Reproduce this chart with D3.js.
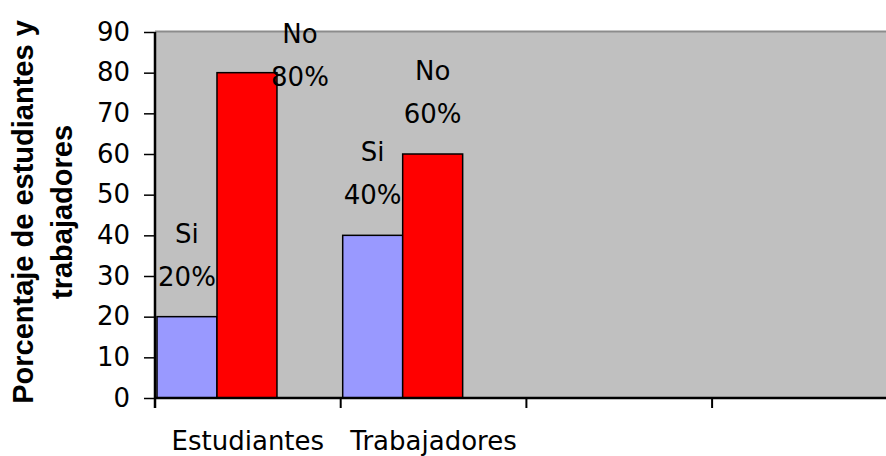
<!DOCTYPE html>
<html><head><meta charset="utf-8">
<script src="https://cdn.jsdelivr.net/npm/d3@7"></script>
<style>body{margin:0;background:#fff}svg{display:block}</style>
</head><body><svg id="c" width="886" height="456"></svg>
<script>
const categories = ["Estudiantes", "Trabajadores", "", ""];
const seriesNames = ["Si", "No"];
const siValues = [20, 40];
const noValues = [80, 60];
const yTicks = [0, 10, 20, 30, 40, 50, 60, 70, 80, 90];
const yTitle = ["Porcentaje de estudiantes y", "trabajadores"];

(function () {
const W = 886, H = 456;
const svg = d3.select("#c");
const pLeft = 155, pTop = 32, pBottom = 398, band = 185.7;
const x = d3.scaleBand().domain(d3.range(categories.length)).range([pLeft, pLeft + band * categories.length]).padding(0);
const y = d3.scaleLinear().domain([0, 90]).range([pBottom, pTop]);
const FONT = "DejaVu Sans";

// plot area
svg.append("rect").attr("x", pLeft).attr("y", pTop).attr("width", W - pLeft).attr("height", pBottom - pTop).attr("fill", "#c0c0c0");
svg.append("line").attr("x1", pLeft).attr("x2", W).attr("y1", pTop - 0.5).attr("y2", pTop - 0.5).attr("stroke", "#8c8c8c").attr("stroke-width", 2);

const colors = ["#9999ff", "#ff0000"];
const series = [siValues, noValues];
const bw = x.bandwidth() * 0.323;
const labelAdjust = [[[0, 0], [0, 0]], [[53, 44], [0, 0]]]; // [series][category] -> [dx, dy]

series.forEach((vals, si) => {
  svg.append("g").selectAll("rect").data(vals).join("rect")
    .attr("x", (d, i) => x(i) + 2 + si * bw)
    .attr("y", d => y(d))
    .attr("width", bw)
    .attr("height", d => y(0) - y(d))
    .attr("fill", colors[si]).attr("stroke", "#000").attr("stroke-width", 1.5);
});

// axes
const yAxis = d3.axisLeft(y).tickValues(yTicks).tickSize(11).tickPadding(14);
const gy = svg.append("g").attr("transform", `translate(${pLeft},0)`).call(yAxis);
gy.select(".domain").attr("stroke-width", 2.5).attr("d", `M0,${pTop}V${pBottom + 10}`);
gy.selectAll(".tick line").attr("stroke-width", 1.5);
gy.selectAll("text").attr("font-family", FONT).attr("font-size", 26).attr("fill", "#000");

const xt = d3.scaleLinear().domain([0, categories.length]).range([pLeft, pLeft + band * categories.length]);
const gx = svg.append("g").attr("transform", `translate(0,${pBottom})`);
gx.append("line").attr("x1", pLeft).attr("x2", W).attr("y1", 0).attr("y2", 0).attr("stroke", "#000").attr("stroke-width", 2.5);
gx.selectAll(".tk").data(d3.range(categories.length)).join("line").attr("class", "tk")
  .attr("x1", i => xt(i)).attr("x2", i => xt(i)).attr("y1", 0).attr("y2", 10).attr("stroke", "#000").attr("stroke-width", 2);
gx.selectAll(".lbl").data(categories).join("text").attr("class", "lbl")
  .attr("x", (d, i) => x(i) + x.bandwidth() / 2).attr("y", 52)
  .attr("text-anchor", "middle").attr("font-family", FONT).attr("font-size", 26).text(d => d);

// data labels
series.forEach((vals, si) => {
  vals.forEach((v, i) => {
    const adj = labelAdjust[si][i];
    const cx = x(i) + 2 + si * bw + bw / 2 + adj[0];
    const cy = y(v) + adj[1];
    const t = svg.append("text").attr("text-anchor", "middle").attr("font-family", FONT).attr("font-size", 26).attr("fill", "#000");
    t.append("tspan").attr("x", cx).attr("y", cy - 74).text(seriesNames[si]);
    t.append("tspan").attr("x", cx).attr("y", cy - 31).text(v + "%");
  });
});

// y title
const tt = svg.append("text").attr("transform", `translate(0,212) rotate(-90)`).attr("text-anchor", "middle")
  .attr("font-family", "Liberation Sans, Arial, sans-serif").attr("font-weight", "bold").attr("font-size", 29);
tt.append("tspan").attr("x", 0).attr("y", 33).text(yTitle[0]);
tt.append("tspan").attr("x", 0).attr("y", 72).text(yTitle[1]);
})();
</script></body></html>
